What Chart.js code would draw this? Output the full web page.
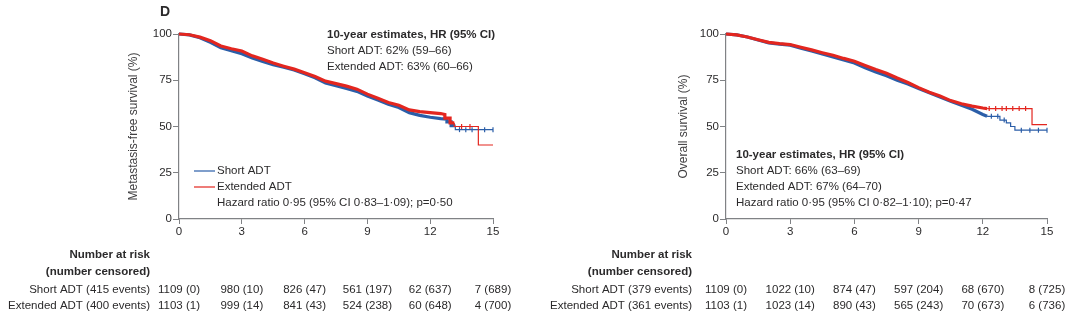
<!DOCTYPE html>
<html>
<head>
<meta charset="utf-8">
<script src="https://cdn.jsdelivr.net/npm/chart.js@4.4.0/dist/chart.umd.min.js"></script>
<style>
  body { margin: 0; background: #fff; }
  .wrap { position: relative; width: 1080px; height: 325px; }
  canvas { position: absolute; top: 0; }
</style>
</head>
<body>
<div class="wrap">
  <canvas id="mfsChart" width="540" height="325" style="left:0"></canvas>
  <canvas id="osChart" width="540" height="325" style="left:540px"></canvas>
</div>
<script>
// Years since randomisation
const xTicks = [0, 3, 6, 9, 12, 15];

// Metastasis-free survival (%) - short ADT
const mfsShortT = [0, 0.5, 1, 1.5, 2, 2.5, 3, 3.5, 4, 4.5, 5, 5.5, 6, 6.5, 7, 7.5, 8, 8.5, 9, 9.5, 10, 10.5, 11, 11.5, 12, 12.5, 12.8, 12.8, 13.0, 13.0, 13.2, 13.2, 15];
const mfsShortS = [100, 99.5, 98, 95.5, 92.5, 91, 89.3, 87, 85.2, 83.4, 82, 80.5, 78.5, 76.3, 73.5, 72, 70.5, 69, 66.5, 64.3, 62, 60.3, 57.5, 56, 55, 54.3, 54, 52.5, 52.5, 50.5, 50.5, 48.3, 48.3];
// Metastasis-free survival (%) - extended ADT
const mfsExtT = [0, 0.5, 1, 1.5, 2, 2.5, 3, 3.5, 4, 4.5, 5, 5.5, 6, 6.5, 7, 7.5, 8, 8.5, 9, 9.5, 10, 10.5, 11, 11.5, 12, 12.5, 12.7, 12.7, 12.95, 12.95, 13.15, 13.15, 14.3, 14.3, 15];
const mfsExtS = [100, 99.6, 98.3, 96.4, 93.5, 92, 90.8, 88.2, 86.3, 84.3, 82.6, 81, 79, 77, 74.5, 73.2, 71.8, 70.2, 67.5, 65.3, 63, 61.5, 59, 58, 57.5, 57, 56.5, 54.5, 54.5, 52, 52, 50, 50, 40, 40];
// censoring marks in the tail
const mfsShortCensT = [13.4, 13.7, 14.0, 14.6, 15];
const mfsShortCensS = [48.3, 48.3, 48.3, 48.3, 48.3];
const mfsExtCensT = [13.5, 13.9];
const mfsExtCensS = [50, 50];

// Overall survival (%) - short ADT
const osShortT = [0, 0.5, 1, 1.5, 2, 2.5, 3, 3.5, 4, 4.5, 5, 5.5, 6, 6.5, 7, 7.5, 8, 8.5, 9, 9.5, 10, 10.5, 11, 11.5, 12, 12.2, 12.8, 12.8, 13.1, 13.1, 13.3, 13.3, 13.5, 13.5, 15];
const osShortS = [100, 99.5, 98.4, 96.8, 95.2, 94.5, 94, 92.3, 90.8, 89.2, 87.6, 86, 84.3, 81.8, 79.5, 77.4, 75, 73, 70.5, 68.3, 66, 63.6, 61.5, 59.3, 56.5, 55.5, 55.5, 53.5, 53.5, 52, 52, 50, 50, 48, 48];
// Overall survival (%) - extended ADT
const osExtT = [0, 0.5, 1, 1.5, 2, 2.5, 3, 3.5, 4, 4.5, 5, 5.5, 6, 6.5, 7, 7.5, 8, 8.5, 9, 9.5, 10, 10.5, 11, 11.5, 12, 12.2, 14.3, 14.3, 15];
const osExtS = [100, 99.5, 98.4, 96.9, 95.5, 94.8, 94.3, 92.8, 91.4, 89.9, 88.5, 86.8, 85.3, 83, 80.8, 78.8, 76.2, 73.8, 71, 68.5, 66.5, 64, 62.3, 61, 60, 59.7, 59.7, 51, 51];
const osShortCensT = [12.4, 12.7, 13.0, 13.8, 14.2, 14.6, 15];
const osShortCensS = [55.5, 55.5, 53.5, 48, 48, 48, 48];
const osExtCensT = [12.3, 12.6, 12.9, 13.1, 13.4, 13.7, 14.0];
const osExtCensS = [59.7, 59.7, 59.7, 59.7, 59.7, 59.7, 59.7];

// Number at risk (number censored)
const mfsShortRisk = [1109, 980, 826, 561, 62, 7];
const mfsShortCens = [0, 10, 47, 197, 637, 689];
const mfsExtRisk = [1103, 999, 841, 524, 60, 4];
const mfsExtCens = [1, 14, 43, 238, 648, 700];
const osShortRisk = [1109, 1022, 874, 597, 68, 8];
const osShortCens = [0, 10, 47, 204, 670, 725];
const osExtRisk = [1103, 1023, 890, 565, 70, 6];
const osExtCens = [1, 14, 43, 243, 673, 736];

const BLUE = '#2b5ea8';
const RED = '#e3261f';
const INK = '#2b2a2b';
const AXIS = '#808285';
const FONT = '"Liberation Sans", Arial, sans-serif';

function pts(t, s) {
  return t.map((v, i) => ({ x: v, y: s[i] }));
}

function curve(label, t, s, color, order, tailStart) {
  return {
    label: label,
    data: pts(t, s),
    borderColor: color,
    backgroundColor: color,
    pointRadius: 0,
    borderWidth: 3.2,
    order: order,
    clip: 4,
    segment: {
      borderWidth: ctx => ctx.p0.parsed.x >= tailStart ? 1.2 : 3.2
    }
  };
}

function censor(t, s, color, order) {
  return {
    data: pts(t, s),
    showLine: false,
    pointStyle: 'line',
    rotation: 90,
    pointRadius: 2.5,
    borderColor: color,
    borderWidth: 1.2,
    order: order,
    clip: 4
  };
}

function textPlugin(p) {
  return {
    id: 'panelText',
    afterDraw(chart) {
      const ctx = chart.ctx;
      const xs = chart.scales.x;
      ctx.save();
      ctx.fillStyle = INK;
      ctx.textBaseline = 'middle';

      if (p.panel) {
        ctx.font = 'bold 14px ' + FONT;
        ctx.textAlign = 'left';
        ctx.fillText(p.panel, 160, 12);
      }

      // estimate block
      ctx.textAlign = 'left';
      p.block.forEach((line, i) => {
        ctx.font = (i === 0 ? 'bold ' : '') + '11.5px ' + FONT;
        ctx.fillText(line, p.blockX, p.blockY + i * 16);
      });

      // legend
      if (p.legend) {
        const lg = p.legend;
        [[BLUE, 'Short ADT'], [RED, 'Extended ADT']].forEach((it, i) => {
          const y = lg.y + i * 16;
          ctx.strokeStyle = it[0];
          ctx.lineWidth = 1.2;
          ctx.beginPath();
          ctx.moveTo(lg.x, y);
          ctx.lineTo(lg.x + 21, y);
          ctx.stroke();
          ctx.font = '11.5px ' + FONT;
          ctx.fillText(it[1], lg.x + 23, y);
        });
        ctx.fillText(lg.hr, lg.x + 23, lg.y + 32);
      }

      // number at risk table
      ctx.textAlign = 'right';
      ctx.font = 'bold 11.5px ' + FONT;
      ctx.fillText('Number at risk', p.tableX, 255);
      ctx.fillText('(number censored)', p.tableX, 272);
      ctx.font = '11.5px ' + FONT;
      ctx.fillText(p.rowLabels[0], p.tableX, 290);
      ctx.fillText(p.rowLabels[1], p.tableX, 306);
      ctx.textAlign = 'center';
      xTicks.forEach((t, i) => {
        const x = xs.getPixelForValue(t);
        ctx.fillText(p.risk[0][i] + ' (' + p.cens[0][i] + ')', x, 290);
        ctx.fillText(p.risk[1][i] + ' (' + p.cens[1][i] + ')', x, 306);
      });
      ctx.restore();
    }
  };
}

function makeChart(id, datasets, yTitle, pad, yWidth, plugin) {
  const tickFont = { family: FONT, size: 11.5 };
  return new Chart(document.getElementById(id), {
    type: 'line',
    data: { datasets: datasets },
    options: {
      responsive: false,
      animation: false,
      layout: { padding: pad },
      plugins: { legend: { display: false }, tooltip: { enabled: false } },
      scales: {
        x: {
          type: 'linear',
          min: 0,
          max: 15,
          afterFit: s => { s.height = 20; },
          afterBuildTicks: s => { s.ticks = xTicks.map(v => ({ value: v })); },
          ticks: { color: INK, font: tickFont, padding: 1, maxRotation: 0 },
          grid: { drawOnChartArea: false, tickLength: 5, color: AXIS },
          border: { color: AXIS, width: 1.2 }
        },
        y: {
          min: 0,
          max: 100,
          afterFit: s => { s.width = yWidth; },
          ticks: { stepSize: 25, color: INK, font: tickFont, padding: 1 },
          grid: { drawOnChartArea: false, tickLength: 6, color: AXIS },
          border: { color: AXIS, width: 1.2 },
          title: { display: true, text: yTitle, color: '#414042', font: { family: FONT, size: 12 }, padding: { top: 4, bottom: 0 } }
        }
      }
    },
    plugins: [plugin]
  });
}

makeChart('mfsChart', [
  curve('Short ADT', mfsShortT, mfsShortS, BLUE, 2, 13.2),
  curve('Extended ADT', mfsExtT, mfsExtS, RED, 1, 13.15),
  censor(mfsShortCensT, mfsShortCensS, BLUE, 2),
  censor(mfsExtCensT, mfsExtCensS, RED, 1)
], 'Metastasis-free survival (%)', { left: 122, right: 47, top: 34, bottom: 86 }, 57, textPlugin({
  panel: 'D',
  block: ['10-year estimates, HR (95% CI)', 'Short ADT: 62% (59–66)', 'Extended ADT: 63% (60–66)'],
  blockX: 327, blockY: 35,
  legend: { x: 194, y: 171, hr: 'Hazard ratio 0·95 (95% CI 0·83–1·09); p=0·50' },
  tableX: 150,
  rowLabels: ['Short ADT (415 events)', 'Extended ADT (400 events)'],
  risk: [mfsShortRisk, mfsExtRisk],
  cens: [mfsShortCens, mfsExtCens]
}));

makeChart('osChart', [
  curve('Short ADT', osShortT, osShortS, BLUE, 2, 12.2),
  curve('Extended ADT', osExtT, osExtS, RED, 1, 12.2),
  censor(osShortCensT, osShortCensS, BLUE, 2),
  censor(osExtCensT, osExtCensS, RED, 1)
], 'Overall survival (%)', { left: 132, right: 33, top: 34, bottom: 86 }, 54, textPlugin({
  block: ['10-year estimates, HR (95% CI)', 'Short ADT: 66% (63–69)', 'Extended ADT: 67% (64–70)', 'Hazard ratio 0·95 (95% CI 0·82–1·10); p=0·47'],
  blockX: 196, blockY: 155,
  tableX: 152,
  rowLabels: ['Short ADT (379 events)', 'Extended ADT (361 events)'],
  risk: [osShortRisk, osExtRisk],
  cens: [osShortCens, osExtCens]
}));
</script>
</body>
</html>
